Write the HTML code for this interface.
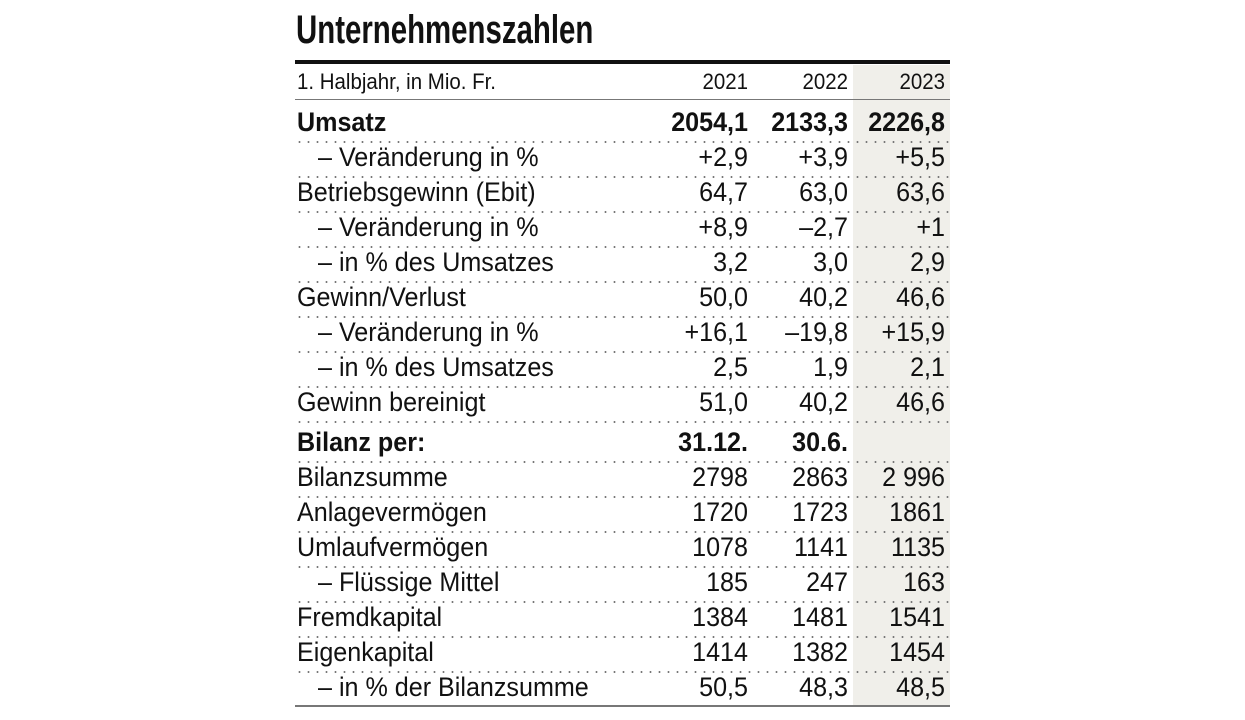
<!DOCTYPE html>
<html><head><meta charset="utf-8"><style>
body{margin:0;width:1245px;height:720px;background:#fff;position:relative;overflow:hidden;font-family:"Liberation Sans",sans-serif;color:#111}
.a{position:absolute}
.shade{left:853px;top:65px;width:97px;height:640px;background:#f0efea}
.title{left:296px;top:8px;font-size:40px;font-weight:bold;line-height:44px;transform:scaleX(0.735);transform-origin:left;white-space:nowrap}
.thick{left:295px;top:60px;width:655px;height:4px;background:#111}
.hl{left:295px;width:655px;height:1px;background:#777}
.dot{left:295px;width:655px;height:2px;background-image:radial-gradient(circle,#777 0.9px,transparent 1.1px);background-size:9px 2px;background-repeat:repeat-x}
.r{position:absolute;left:0;width:1245px;height:28px;line-height:28px;font-size:27px;margin-top:-2px}
.r span{position:absolute;white-space:nowrap;transform:scaleX(0.93)}
.l,.i{transform-origin:left}
.l{left:297px}.i{left:318px}
.c1,.c2,.c3{text-align:right;width:140px;transform-origin:right}
.c1{left:608px}.c2{left:708px}.c3{left:805px}
.b{font-weight:bold}
.h{font-size:22px}
</style></head><body>
<div class="a shade"></div>
<div class="a title">Unternehmenszahlen</div>
<div class="a thick"></div>
<div class="r h" style="top:70px"><span class="l">1. Halbjahr, in Mio. Fr.</span><span class="c1">2021</span><span class="c2">2022</span><span class="c3">2023</span></div>
<div class="a hl" style="top:99px"></div>

<div class="r b" style="top:110px"><span class="l">Umsatz</span><span class="c1">2054,1</span><span class="c2">2133,3</span><span class="c3">2226,8</span></div>
<div class="r" style="top:145px"><span class="i">– Veränderung in %</span><span class="c1">+2,9</span><span class="c2">+3,9</span><span class="c3">+5,5</span></div>
<div class="r" style="top:180px"><span class="l">Betriebsgewinn (Ebit)</span><span class="c1">64,7</span><span class="c2">63,0</span><span class="c3">63,6</span></div>
<div class="r" style="top:215px"><span class="i">– Veränderung in %</span><span class="c1">+8,9</span><span class="c2">–2,7</span><span class="c3">+1</span></div>
<div class="r" style="top:250px"><span class="i">– in % des Umsatzes</span><span class="c1">3,2</span><span class="c2">3,0</span><span class="c3">2,9</span></div>
<div class="r" style="top:285px"><span class="l">Gewinn/Verlust</span><span class="c1">50,0</span><span class="c2">40,2</span><span class="c3">46,6</span></div>
<div class="r" style="top:320px"><span class="i">– Veränderung in %</span><span class="c1">+16,1</span><span class="c2">–19,8</span><span class="c3">+15,9</span></div>
<div class="r" style="top:355px"><span class="i">– in % des Umsatzes</span><span class="c1">2,5</span><span class="c2">1,9</span><span class="c3">2,1</span></div>
<div class="r" style="top:390px"><span class="l">Gewinn bereinigt</span><span class="c1">51,0</span><span class="c2">40,2</span><span class="c3">46,6</span></div>
<div class="r b" style="top:430px"><span class="l">Bilanz per:</span><span class="c1">31.12.</span><span class="c2">30.6.</span></div>
<div class="r" style="top:465px"><span class="l">Bilanzsumme</span><span class="c1">2798</span><span class="c2">2863</span><span class="c3">2 996</span></div>
<div class="r" style="top:500px"><span class="l">Anlagevermögen</span><span class="c1">1720</span><span class="c2">1723</span><span class="c3">1861</span></div>
<div class="r" style="top:535px"><span class="l">Umlaufvermögen</span><span class="c1">1078</span><span class="c2">1141</span><span class="c3">1135</span></div>
<div class="r" style="top:570px"><span class="i">– Flüssige Mittel</span><span class="c1">185</span><span class="c2">247</span><span class="c3">163</span></div>
<div class="r" style="top:605px"><span class="l">Fremdkapital</span><span class="c1">1384</span><span class="c2">1481</span><span class="c3">1541</span></div>
<div class="r" style="top:640px"><span class="l">Eigenkapital</span><span class="c1">1414</span><span class="c2">1382</span><span class="c3">1454</span></div>
<div class="r" style="top:675px"><span class="i">– in % der Bilanzsumme</span><span class="c1">50,5</span><span class="c2">48,3</span><span class="c3">48,5</span></div>

<div class="a dot" style="top:141px"></div>
<div class="a dot" style="top:176px"></div>
<div class="a dot" style="top:211px"></div>
<div class="a dot" style="top:246px"></div>
<div class="a dot" style="top:281px"></div>
<div class="a dot" style="top:316px"></div>
<div class="a dot" style="top:351px"></div>
<div class="a dot" style="top:386px"></div>
<div class="a dot" style="top:421px"></div>
<div class="a dot" style="top:461px"></div>
<div class="a dot" style="top:496px"></div>
<div class="a dot" style="top:531px"></div>
<div class="a dot" style="top:566px"></div>
<div class="a dot" style="top:601px"></div>
<div class="a dot" style="top:636px"></div>
<div class="a dot" style="top:671px"></div>
<div class="a hl" style="top:705px;height:2px"></div>
</body></html>
